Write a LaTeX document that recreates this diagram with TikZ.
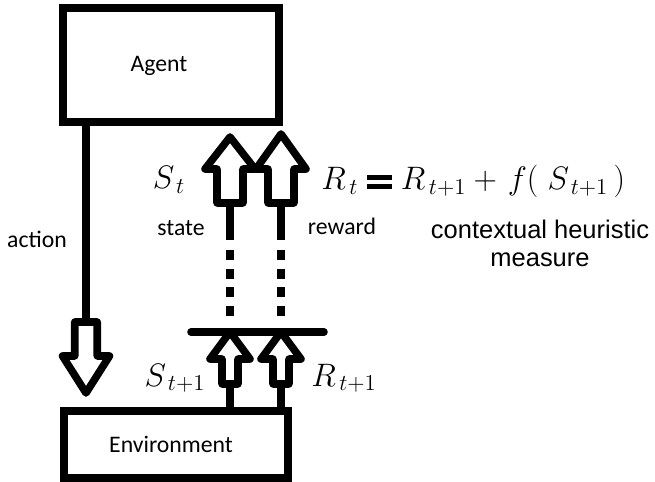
\RequirePackage{fix-cm}
\documentclass[tikz,border=0pt]{standalone}
\usepackage{amsmath,amssymb}
\usepackage{fontspec}
\usepackage{tikz}
\usetikzlibrary{calc}
\newfontfamily\carlito{Carlito}
\newfontfamily\arialish{Liberation Sans}
\newcommand\heavyeq{\mathrel{\vcenter{\hrule width 14pt height 2.5pt
  \vskip 2.6pt \hrule width 14pt height 2.5pt}}}
\tikzset{
  boxline/.style={draw=black, line width=4.3pt},
  conn/.style={draw=black, line width=4.3pt},
  dotline/.style={draw=black, line width=4.3pt, dash pattern=on 5.7pt off 4.9pt},
  lab/.style={font=\carlito\fontsize{13.5}{16}\selectfont, inner sep=0pt, anchor=base},
  sym/.style={font=\fontsize{18.5}{21}\selectfont, inner sep=0pt, anchor=base},
  note/.style={font=\arialish\fontsize{14.5}{15.5}\selectfont, align=center, inner sep=0pt},
  pics/hollow/.style args={#1/#2/#3/#4}{code={
    \draw[conn, fill=white, line join=round]
      (0,0) -- (#1,#2) -- (#3,#2) -- (#3,{#2+(#4)}) -- (-#3,{#2+(#4)})
      -- (-#3,#2) -- (-#1,#2) -- cycle;
  }},
}

\begin{document}
\begin{tikzpicture}[x=0.02cm, y=-0.02cm]
  \useasboundingbox (0,0) rectangle (655,482);

  % boxes
  \node[boxline, minimum width=4.32cm, minimum height=2.28cm] (agent) at (171,65) {};
  \node[boxline, minimum width=4.48cm, minimum height=1.34cm] (env) at (176,444.5) {};
  \node[lab] (agenttxt) at (159,72) {Agent};
  \node[lab] (envtxt) at (171,452) {Environment};

  % action
  \coordinate (act) at (86,322);
  \draw[conn] (agent.south -| act) -- (act);
  \pic at (86,393) {hollow=23.5/-37/11.25/-34};
  \node[lab] (actiontxt) at (37,248) {action};

  % state and reward going back
  \coordinate (sbot) at (230,384);
  \coordinate (rbot) at (281,384);
  \coordinate (bl) at (191,332);
  \coordinate (br) at (324,332);
  \draw[conn] (env.north -| sbot) -- (sbot);
  \draw[conn] (env.north -| rbot) -- (rbot);
  \draw[conn, line cap=round] (bl) -- (br);
  \pic at (230,332) {hollow=20/27/8/25};
  \pic at (281,332) {hollow=20/27/8/25};

  \coordinate (stop) at (230,203);
  \coordinate (rtop) at (281,203);
  \draw[conn] (stop) -- ++(0,37);
  \draw[conn] (rtop) -- ++(0,37);
  \draw[dotline] (230,250) -- (230,316);
  \draw[dotline] (281,250) -- (281,316);
  \pic at (230,137) {hollow=25/32/13/34};
  \pic at (281,134) {hollow=25/35/13/34};

  % labels
  \node[sym] (st) at (169,189) {$S_{\,t}$};
  \node[sym] (st1) at (175,386) {$S_{\,t+1}$};
  \node[sym] (rt1) at (344,386) {$R_{\,t+1}$};
  \node[lab] (statetxt) at (181,236) {state};
  \node[lab] (rewardtxt) at (342,235) {reward};
  \node[sym, anchor=base west] (eq) at (321,190)
    {$R_{\,t}\heavyeq R_{\,t+1}+\!\;f(\;S_{\,t+1}\,)$};
  \node[note, anchor=north] (ctx) at (540,220) {contextual heuristic\\measure};
\end{tikzpicture}
\end{document}
